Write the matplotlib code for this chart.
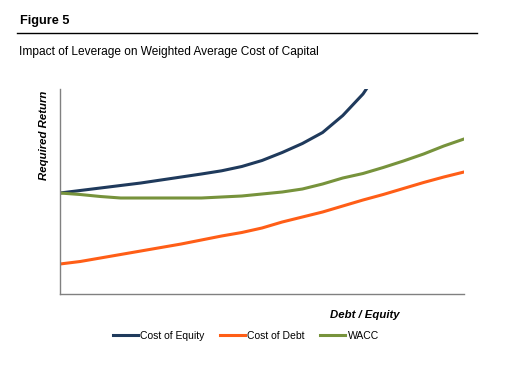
import matplotlib.pyplot as plt
import numpy as np

plt.rcParams["font.family"] = ["Liberation Sans", "DejaVu Sans"]

# debt / equity ratio (no tick labels shown on the chart)
debt_equity = np.round(np.arange(0, 2.01, 0.1), 2)

# required returns, %
cost_of_equity = [10.1, 10.35, 10.6, 10.85, 11.1, 11.4, 11.7, 12.0, 12.32, 12.75,
                  13.35, 14.15, 15.05, 16.15, 17.85, 20.0, 23.0,
                  np.nan, np.nan, np.nan, np.nan]
cost_of_debt = [3.0, 3.25, 3.6, 3.95, 4.3, 4.65, 5.0, 5.4, 5.8, 6.15,
                6.6, 7.2, 7.7, 8.2, 8.8, 9.4, 9.95, 10.55, 11.15, 11.7, 12.2]
wacc = [10.1, 9.95, 9.75, 9.6, 9.6, 9.6, 9.6, 9.6, 9.7, 9.8,
        10.0, 10.2, 10.5, 11.0, 11.6, 12.05, 12.65, 13.3, 14.0, 14.8, 15.5]

series = ["Cost of Equity", "Cost of Debt", "WACC"]
colors = ["#1f3a5c", "#ff5e17", "#77933c"]

fig = plt.figure(figsize=(5.08, 3.74), dpi=100)
ax = fig.add_axes([60 / 508, 1 - 294 / 374, 404 / 508, 205 / 374])

for vals, name, c in zip([cost_of_equity, cost_of_debt, wacc], series, colors):
    ax.plot(debt_equity, vals, color=c, lw=2.2, label=name)

ax.set_xlim(0, 2.0)
ax.set_ylim(0, 20.5)
ax.set_xticks([])
ax.set_yticks([])
for s in ["top", "right"]:
    ax.spines[s].set_visible(False)
for s in ["left", "bottom"]:
    ax.spines[s].set_color("#808080")
    ax.spines[s].set_linewidth(1.0)

# header
fig.text(20 / 508, 1 - 24 / 374, "Figure 5", fontsize=9.2, fontweight="bold",
         ha="left", va="baseline")
fig.add_artist(plt.Line2D([17 / 508, 477 / 508], [1 - 32.5 / 374, 1 - 32.5 / 374],
                          color="black", lw=1.0))
fig.text(19 / 508, 1 - 55 / 374, "Impact of Leverage on Weighted Average Cost of Capital",
         fontsize=8.6, ha="left", va="baseline")

# axis titles
fig.text(44 / 508, 1 - 135 / 374, "Required Return", rotation=90, fontsize=8.2,
         fontweight="bold", fontstyle="italic", ha="center", va="center")
fig.text(365 / 508, 1 - 315 / 374, "Debt / Equity", fontsize=8.2,
         fontweight="bold", fontstyle="italic", ha="center", va="center")

fig.legend(loc="center", bbox_to_anchor=(246 / 508, 1 - 336 / 374), ncol=3,
           frameon=False, fontsize=7.5, handlelength=2.4, handletextpad=0.2,
           columnspacing=1.5)

fig.savefig("out.png", dpi=100)
